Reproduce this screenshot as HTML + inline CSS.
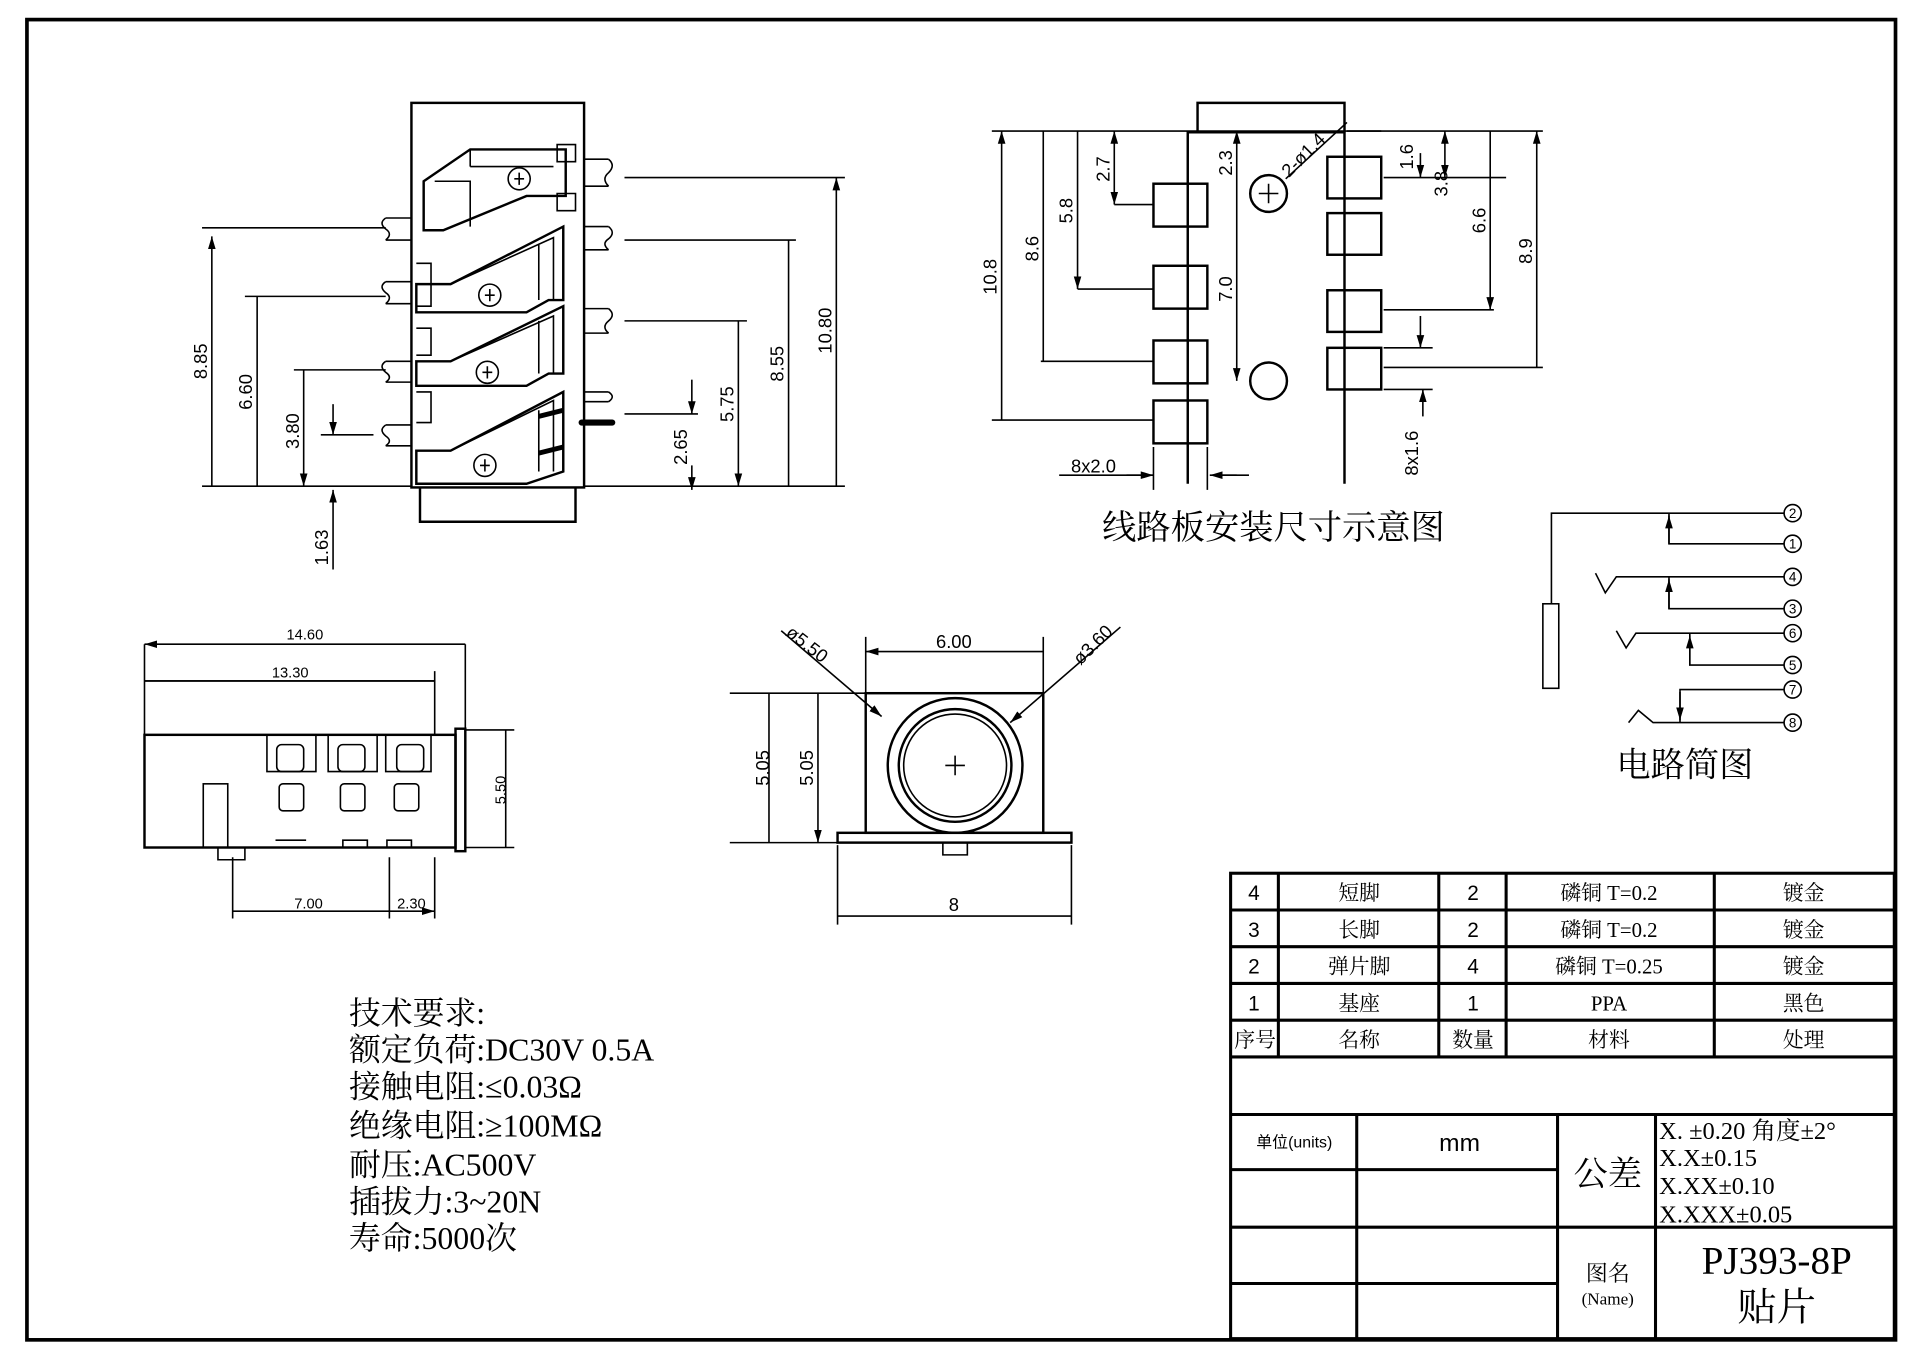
<!DOCTYPE html>
<html><head><meta charset="utf-8"><style>
html,body{margin:0;padding:0;background:#fff}
svg{display:block}
text{font-family:"Liberation Sans","Noto Sans CJK SC",sans-serif;fill:#000}
.s text, text.s{font-family:"Liberation Serif","Noto Serif CJK SC",serif}
</style></head><body>
<svg width="1920" height="1357" viewBox="0 0 1568 1108" preserveAspectRatio="none" xmlns="http://www.w3.org/2000/svg">
<defs>
<marker id="a" viewBox="0 0 10 10" refX="10" refY="5" markerWidth="8" markerHeight="8" orient="auto-start-reverse"><path d="M0,2 L10,5 L0,8z" fill="#000"/></marker>
</defs>
<rect x="22" y="16" width="1526" height="1078" fill="none" stroke="#000" stroke-width="3"/>
<g fill="none" stroke="#000" stroke-width="1.3">
<!-- top-left view -->
<rect x="336" y="84" width="141" height="314" stroke-width="2"/>
<path d="M343 398 V426 H470 V398" stroke-width="2"/>
<path d="M346 148 L384 122 H462 V160 H430 L362 188 H346 Z" stroke-width="2"/>
<path d="M384 122 V136 M355 148 H384 V185 M384 136 L452 136"/>
<path d="M340 232 H368 L460 185 V245 L448 245 L430 255 H340 Z" stroke-width="2"/>
<path d="M368 232 L452 194 V245 M440 200 V245"/>
<path d="M340 295 H368 L460 250 V305 L448 305 L430 315 H340 Z" stroke-width="2"/>
<path d="M368 295 L452 258 V305 M440 262 V305"/>
<path d="M340 368 H368 L460 320 V385 L430 395 H340 Z" stroke-width="2"/>
<path d="M368 368 L452 327 V385 M440 335 V385"/>
<path d="M340 215 H352 V250 H340 M340 268 H352 V290 H340 M340 320 H352 V345 H340 M455 118 H470 V132 H455 Z M455 158 H470 V172 H455 Z"/>
<path d="M440 370 L460 365 M440 340 L460 335" stroke-width="4"/>
<circle cx="424" cy="146" r="9"/><circle cx="400" cy="241" r="9"/><circle cx="398" cy="304" r="9"/><circle cx="396" cy="380" r="9"/>
<path d="M420 146 H428 M424 141 V151 M396 241 H404 M400 236 V246 M394 304 H402 M398 299 V309 M392 380 H400 M396 375 V385"/>
<path d="M477 130 H497 M477 152 H497 M477 185 H497 M477 204 H497 M477 252 H497 M477 272 H497 M477 328 H497"/>
<path d="M315 178 H336 M315 196 H336 M315 230 H336 M315 248 H336 M315 295 H336 M315 312 H336 M315 347 H336 M315 364 H336"/>
<path d="M497 130 q6 5 0 11 q-6 5 0 11 M497 185 q6 5 0 10 q-6 4 0 9 M497 252 q6 5 0 10 q-6 5 0 10 M497 320 q6 4 0 8 M315 178 q-6 4 0 9 q6 4 0 9 M315 230 q-6 4 0 9 q6 4 0 9 M315 295 q-6 4 0 9 q6 4 0 8 M315 347 q-6 4 0 9 q6 4 0 8"/>
<path d="M477 320 H497"/>
<path d="M475 345 H500" stroke-width="5" stroke-linecap="round"/>
<!-- dims left -->
<path d="M165 397 H336 M165 186 H315 M200 242 H315 M240 302 H315 M262 355 H305"/>
<path d="M173 193 V397 M210 242 V397 M248 302 V397" marker-start="url(#a)" marker-end="url(#a)"/>
<path d="M272 330 V355" marker-end="url(#a)"/><path d="M272 465 V400" marker-end="url(#a)"/>
<!-- dims right -->
<path d="M477 397 H690 M510 145 H690 M510 196 H650 M510 262 H610 M510 338 H570"/>
<path d="M683 145 V397 M644 196 V397 M603 262 V397" marker-start="url(#a)" marker-end="url(#a)"/>
<path d="M565 310 V338" marker-end="url(#a)"/><path d="M565 380 V400" marker-end="url(#a)"/>
<!-- PCB view -->
<path d="M970 395 V108 H1098 V395" stroke-width="2"/>
<path d="M978 108 V84 H1098 V108" stroke-width="2"/>
<rect x="942" y="150" width="44" height="35" stroke-width="2"/><rect x="942" y="217" width="44" height="35" stroke-width="2"/><rect x="942" y="278" width="44" height="35" stroke-width="2"/><rect x="942" y="327" width="44" height="35" stroke-width="2"/>
<rect x="1084" y="128" width="44" height="34" stroke-width="2"/><rect x="1084" y="174" width="44" height="34" stroke-width="2"/><rect x="1084" y="237" width="44" height="34" stroke-width="2"/><rect x="1084" y="284" width="44" height="34" stroke-width="2"/>
<circle cx="1036" cy="158" r="15" stroke-width="2"/><circle cx="1036" cy="311" r="15" stroke-width="2"/>
<path d="M1028 158 H1044 M1036 150 V166"/>
<path d="M810 107 H1128 M810 343 H942 M850 295 H942 M880 236 H942 M910 167 H942"/>
<path d="M818 107 V343 M852 107 V295 M880 107 V236" marker-start="url(#a)" marker-end="url(#a)"/>
<path d="M910 107 V167" marker-start="url(#a)" marker-end="url(#a)"/>
<path d="M1010 107 V311" marker-start="url(#a)" marker-end="url(#a)"/>
<path d="M1100 107 H1260 M1130 145 H1230 M1130 253 H1220 M1130 300 H1260 M1130 284 H1170 M1130 318 H1170"/>
<path d="M1255 107 V300 M1217 107 V253" marker-start="url(#a)" marker-end="url(#a)"/>
<path d="M1180 107 V145" marker-start="url(#a)" marker-end="url(#a)"/>
<path d="M1160 125 V145" marker-end="url(#a)"/><path d="M1160 258 V284" marker-end="url(#a)"/><path d="M1162 340 V318" marker-end="url(#a)"/>
<path d="M1050 146 L1100 100"/>
<path d="M865 388 H942 M990 388 H1020 M942 365 V400 M986 365 V400" />
<path d="M920 388 H942" marker-end="url(#a)"/><path d="M1010 388 H988" marker-end="url(#a)"/>
<!-- side view -->
<rect x="118" y="600" width="254" height="92" stroke-width="2"/>
<rect x="372" y="595" width="8" height="100" stroke-width="2"/>
<rect x="166" y="640" width="20" height="52"/>
<rect x="228" y="640" width="20" height="22" rx="3"/><rect x="278" y="640" width="20" height="22" rx="3"/><rect x="322" y="640" width="20" height="22" rx="3"/>
<path d="M218 600 V630 H258 V600 M268 600 V630 H308 V600 M315 600 V630 H352 V600"/>
<rect x="226" y="608" width="22" height="22" rx="4"/><rect x="276" y="608" width="22" height="22" rx="4"/><rect x="324" y="608" width="22" height="22" rx="4"/>
<path d="M178 692 V702 H200 V692 M280 692 V686 H300 V692 M316 692 V686 H336 V692 M225 686 H250" />
<path d="M118 526 V600 M380 526 V595 M118 556 H355 M355 548 V600 M190 700 V750 M318 700 V750 M355 700 V750 M380 596 H420 M380 692 H420"/>
<path d="M118 526 H380 M118 556 H355 M413 596 V692 M190 744 H318 M318 744 H355" marker-start="url(#a)" marker-end="url(#a)"/>
<!-- front view -->
<rect x="707" y="566" width="145" height="114" stroke-width="2"/>
<rect x="684" y="680" width="191" height="8" stroke-width="2"/>
<path d="M770 688 V698 H790 V688"/>
<circle cx="780" cy="625" r="55" stroke-width="2"/><circle cx="780" cy="625" r="46" stroke-width="2"/><circle cx="780" cy="625" r="42"/>
<path d="M772 625 H788 M780 617 V633"/>
<path d="M707 520 V566 M852 520 V566 M684 690 V755 M875 690 V755 M596 566 H707 M640 566 H707 M596 688 H684 M640 688 H684"/>
<path d="M707 532 H852 M684 748 H875 M628 566 V688 M668 566 V688" marker-start="url(#a)" marker-end="url(#a)"/>
<path d="M638 515 L720 585" marker-end="url(#a)"/><path d="M915 512 L825 590" marker-end="url(#a)"/>
<!-- circuit -->
<path d="M1267 493 V419 H1457 M1363 419 V444 H1457 M1303 468 L1311 484 L1320 471 H1457 M1363 471 V497 H1457 M1320 515 L1328 529 L1336 517 H1457 M1380 517 V543 H1457 M1372 590 V563 H1457 M1330 590 L1338 580 L1350 590 H1457"/>
<rect x="1260" y="493" width="13" height="69"/>
<path d="M1363 444 V421" marker-end="url(#a)"/><path d="M1363 497 V473" marker-end="url(#a)"/><path d="M1380 543 V519" marker-end="url(#a)"/><path d="M1372 565 V588" marker-end="url(#a)"/>
<circle cx="1464" cy="419" r="7"/><circle cx="1464" cy="444" r="7"/><circle cx="1464" cy="471" r="7"/><circle cx="1464" cy="497" r="7"/><circle cx="1464" cy="517" r="7"/><circle cx="1464" cy="543" r="7"/><circle cx="1464" cy="563" r="7"/><circle cx="1464" cy="590" r="7"/>
<!-- table -->
<g stroke-width="2.5">
<rect x="1005" y="713" width="542" height="380"/>
<path d="M1005 743 H1547 M1005 773 H1547 M1005 803 H1547 M1005 833 H1547 M1005 863 H1547 M1005 910 H1547 M1005 1002 H1547 M1005 955 H1272 M1005 1048 H1272"/>
<path d="M1044 713 V863 M1175 713 V863 M1230 713 V863 M1400 713 V863 M1108 910 V1093 M1272 910 V1093 M1352 910 V1093"/>
</g>
</g>
<!-- circuit labels -->
<g font-size="11" text-anchor="middle">
<text x="1464" y="423">2</text><text x="1464" y="448">1</text><text x="1464" y="475">4</text><text x="1464" y="501">3</text><text x="1464" y="521">6</text><text x="1464" y="547">5</text><text x="1464" y="567">7</text><text x="1464" y="594">8</text>
</g>
<!-- dim text -->
<g font-size="15" text-anchor="middle">
<text transform="translate(169 295) rotate(-90)">8.85</text>
<text transform="translate(206 320) rotate(-90)">6.60</text>
<text transform="translate(244 352) rotate(-90)">3.80</text>
<text transform="translate(268 447) rotate(-90)">1.63</text>
<text transform="translate(679 270) rotate(-90)">10.80</text>
<text transform="translate(640 297) rotate(-90)">8.55</text>
<text transform="translate(599 330) rotate(-90)">5.75</text>
<text transform="translate(561 365) rotate(-90)">2.65</text>
<text transform="translate(814 226) rotate(-90)">10.8</text>
<text transform="translate(848 203) rotate(-90)">8.6</text>
<text transform="translate(876 172) rotate(-90)">5.8</text>
<text transform="translate(906 138) rotate(-90)">2.7</text>
<text transform="translate(1006 133) rotate(-90)">2.3</text>
<text transform="translate(1006 236) rotate(-90)">7.0</text>
<text transform="translate(1154 128) rotate(-90)">1.6</text>
<text transform="translate(1182 150) rotate(-90)">3.8</text>
<text transform="translate(1213 180) rotate(-90)">6.6</text>
<text transform="translate(1251 205) rotate(-90)">8.9</text>
<text transform="translate(1158 370) rotate(-90)">8x1.6</text>
<text transform="translate(1068 130) rotate(-45)">2-ø1.4</text>
<text x="893" y="386">8x2.0</text>
<text transform="translate(628 627) rotate(-90)">5.05</text>
<text transform="translate(664 627) rotate(-90)">5.05</text>
<text transform="translate(413 645) rotate(-90)" font-size="12">5.50</text>
<text x="779" y="529">6.00</text>
<text x="779" y="744">8</text>
<text transform="translate(656 530) rotate(38)">ø5.50</text>
<text transform="translate(896 530) rotate(-45)">ø3.60</text>
</g>
<g font-size="12" text-anchor="middle">
<text x="249" y="522">14.60</text><text x="237" y="553">13.30</text><text x="252" y="742">7.00</text><text x="336" y="742">2.30</text>
</g>
<text x="1040" y="440" font-size="28" text-anchor="middle" class="s">线路板安装尺寸示意图</text>
<text x="1376" y="634" font-size="28" text-anchor="middle" class="s">电路简图</text>
<g font-size="26" class="s" textLength="0">
<text x="285" y="836">技术要求:</text>
<text x="285" y="866">额定负荷:DC30V 0.5A</text>
<text x="285" y="896">接触电阻:≤0.03Ω</text>
<text x="285" y="928">绝缘电阻:≥100MΩ</text>
<text x="285" y="960">耐压:AC500V</text>
<text x="285" y="990">插拔力:3~20N</text>
<text x="285" y="1020">寿命:5000次</text>
</g>
<!-- table text -->
<g font-size="17" text-anchor="middle" class="s">
<text x="1024" y="735" style="font-family:'Liberation Sans'">4</text><text x="1110" y="735">短脚</text><text x="1203" y="735" style="font-family:'Liberation Sans'">2</text><text x="1314" y="735">磷铜 T=0.2</text><text x="1473" y="735">镀金</text>
<text x="1024" y="765" style="font-family:'Liberation Sans'">3</text><text x="1110" y="765">长脚</text><text x="1203" y="765" style="font-family:'Liberation Sans'">2</text><text x="1314" y="765">磷铜 T=0.2</text><text x="1473" y="765">镀金</text>
<text x="1024" y="795" style="font-family:'Liberation Sans'">2</text><text x="1110" y="795">弹片脚</text><text x="1203" y="795" style="font-family:'Liberation Sans'">4</text><text x="1314" y="795">磷铜 T=0.25</text><text x="1473" y="795">镀金</text>
<text x="1024" y="825" style="font-family:'Liberation Sans'">1</text><text x="1110" y="825">基座</text><text x="1203" y="825" style="font-family:'Liberation Sans'">1</text><text x="1314" y="825">PPA</text><text x="1473" y="825">黑色</text>
<text x="1025" y="855">序号</text><text x="1110" y="855">名称</text><text x="1203" y="855">数量</text><text x="1314" y="855">材料</text><text x="1473" y="855">处理</text>
</g>
<text x="1057" y="937" font-size="13" text-anchor="middle">单位(units)</text>
<text x="1192" y="940" font-size="20" text-anchor="middle">mm</text>
<text x="1313" y="968" font-size="28" text-anchor="middle" class="s">公差</text>
<g font-size="20" class="s"><text x="1355" y="930">X. ±0.20 角度±2°</text><text x="1355" y="952">X.X±0.15</text><text x="1355" y="975">X.XX±0.10</text><text x="1355" y="998">X.XXX±0.05</text></g>
<text x="1313" y="1046" font-size="18" text-anchor="middle" class="s">图名</text>
<text x="1313" y="1065" font-size="14" text-anchor="middle" class="s">(Name)</text>
<text x="1451" y="1040" font-size="32" text-anchor="middle" class="s">PJ393-8P</text>
<text x="1451" y="1078" font-size="32" text-anchor="middle" class="s">贴片</text>
</svg>
</body></html>
